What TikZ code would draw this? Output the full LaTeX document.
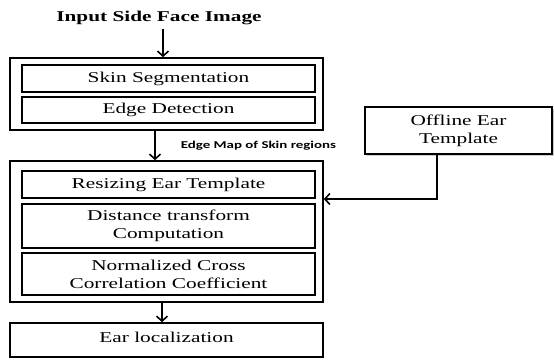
\documentclass[tikz,border=0pt]{standalone}
\usepackage{fontspec}
\setmainfont{Liberation Serif}[FakeStretch=1.42]
\newfontfamily\mapfont{Carlito}[FakeStretch=1.42]
\usetikzlibrary{arrows.meta,shadows,calc}

\begin{document}
\begin{tikzpicture}
    [
        x=1pt, y=1pt, line width=1.6pt,
        outer_style/.style={draw=black, minimum width=313pt, inner sep=0pt},
        inner_style/.style={draw=black, minimum width=293pt, inner sep=0pt, align=center, font=\fontsize{15}{18}\selectfont},
        ear_style/.style={draw=black, minimum width=313pt, minimum height=34pt, inner sep=0pt, text depth=6pt, font=\fontsize{15}{18}\selectfont},
        offline_style/.style={draw=black, fill=white, minimum width=187pt, minimum height=47pt, inner sep=0pt, align=center, font=\fontsize{15}{18}\selectfont,
            drop shadow={shadow xshift=1.5pt, shadow yshift=-1.5pt, opacity=0.4, fill=gray}},
        title_style/.style={inner sep=0pt, font=\fontsize{15}{18}\selectfont\bfseries},
        map_style/.style={inner sep=0pt, font=\fontsize{10.5}{12}\mapfont\bfseries},
        arrow_style/.style={draw=black, line width=1.6pt, -{Straight Barb[length=5pt,width=11pt]}}
    ]
        \useasboundingbox (0,0) rectangle (554,360);

        \node[title_style] (title) at (159,342) {Input Side Face Image};

        \node[outer_style, minimum height=72pt] (outer1) at (166.5,266) {};
        \node[inner_style, minimum height=27pt] (skin) at (168.5,281.5) {Skin Segmentation};
        \node[inner_style, minimum height=26pt] (edge) at (168.5,250) {Edge Detection};

        \node[map_style, anchor=west] (maplabel) at (180,214) {Edge Map of Skin regions};

        \node[outer_style, minimum height=141pt] (outer2) at (166.5,128.5) {};
        \node[inner_style, minimum height=27pt] (resize) at (168.5,175.5) {Resizing Ear Template};
        \node[inner_style, minimum height=44pt] (dist) at (168.5,134) {Distance transform\\Computation};
        \node[inner_style, minimum height=42pt] (ncc) at (168.5,86) {Normalized Cross\\Correlation Coefficient};

        \node[ear_style] (ear) at (166.5,20) {Ear localization};

        \node[offline_style] (offline) at (458.5,229.5) {Offline Ear\\Template};

        \coordinate (tx) at (163,0);
        \coordinate (ex) at (155,0);
        \coordinate (lx) at (162,0);
        \coordinate (oxy) at (437,161);

        \draw[arrow_style, shorten <=3pt] (title.south -| tx) -- (outer1.north -| tx);
        \draw[arrow_style] (outer1.south -| ex) -- (outer2.north -| ex);
        \draw[arrow_style] (outer2.south -| lx) -- (ear.north -| lx);
        \draw[arrow_style] (offline.south -| oxy) |- (outer2.east |- oxy);
    \end{tikzpicture}
\end{document}
